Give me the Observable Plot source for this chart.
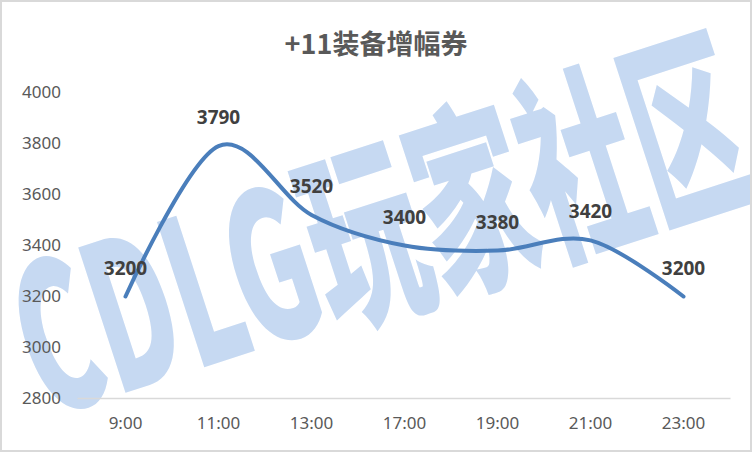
<!DOCTYPE html>
<html>
<head>
<meta charset="utf-8">
<script src="https://cdn.jsdelivr.net/npm/d3@7"></script>
<script src="https://cdn.jsdelivr.net/npm/@observablehq/plot@0.6"></script>
<style>
  html, body { margin: 0; padding: 0; background: #fff; }
  #wrap { position: relative; width: 752px; height: 452px; box-sizing: border-box; border: 2px solid #d9d9d9; overflow: hidden; background: #fff; }
  #title { position: absolute; left: 0; right: 0; top: 24px; text-align: center; font: bold 27px "Noto Sans CJK SC", "Noto Sans", sans-serif; color: #595959; z-index: 2; line-height: 34px; }
  #chart { position: absolute; left: 0; top: 0; }
</style>
</head>
<body>
<div id="wrap">
  <div id="title">+11装备增幅券</div>
  <div id="chart"></div>
</div>
<script>
const times = ["9:00", "11:00", "13:00", "17:00", "19:00", "21:00", "23:00"];
const prices = [3200, 3790, 3520, 3400, 3380, 3420, 3200];
const yTicks = [2800, 3000, 3200, 3400, 3600, 3800, 4000];
const watermark = ["CDLG玩家社区"];

const data = times.map((t, i) => ({time: t, price: prices[i]}));

const chart = Plot.plot({
  width: 748,
  height: 448,
  marginTop: 90,
  marginBottom: 52,
  marginLeft: 75.5,
  marginRight: 19.5,
  style: {fontFamily: "'Noto Sans', sans-serif", fontSize: "17px", background: "transparent", overflow: "visible"},
  x: {type: "point", domain: times, padding: 0.5, label: null},
  y: {domain: [2800, 4000], ticks: yTicks, label: null},
  marks: [
    Plot.text(watermark, {
      frameAnchor: "middle", dx: -20, dy: -6, rotate: -18,
      fontSize: 108, fontWeight: 900, fill: "#c6d9f2",
      fontFamily: "'Noto Sans CJK SC', sans-serif",
      className: "wm"
    }),
    Plot.ruleY([2800], {stroke: "#d9d9d9", strokeWidth: 1.5}),
    Plot.axisY({ticks: yTicks, tickSize: 0, tickPadding: 17, fontSize: 17, tickFormat: d => String(d), color: "#595959"}),
    Plot.axisX({tickSize: 0, tickPadding: 18, fontSize: 17, color: "#595959"}),
    Plot.line(data, {x: "time", y: "price", curve: "cardinal", stroke: "#4a7ebb", strokeWidth: 4, strokeLinecap: "round"}),
    Plot.text(data, {x: "time", y: "price", text: d => String(d.price), dy: -28, fontSize: 19, fontWeight: "bold", fill: "#404040"})
  ]
});
// condense the watermark glyphs like the reference logo
d3.select(chart).selectAll("g.wm text").each(function() {
  const t = this.getAttribute("transform") || "";
  this.setAttribute("transform", t + " scale(1.05,1.9)");
});
document.getElementById("chart").appendChild(chart);
</script>
</body>
</html>
